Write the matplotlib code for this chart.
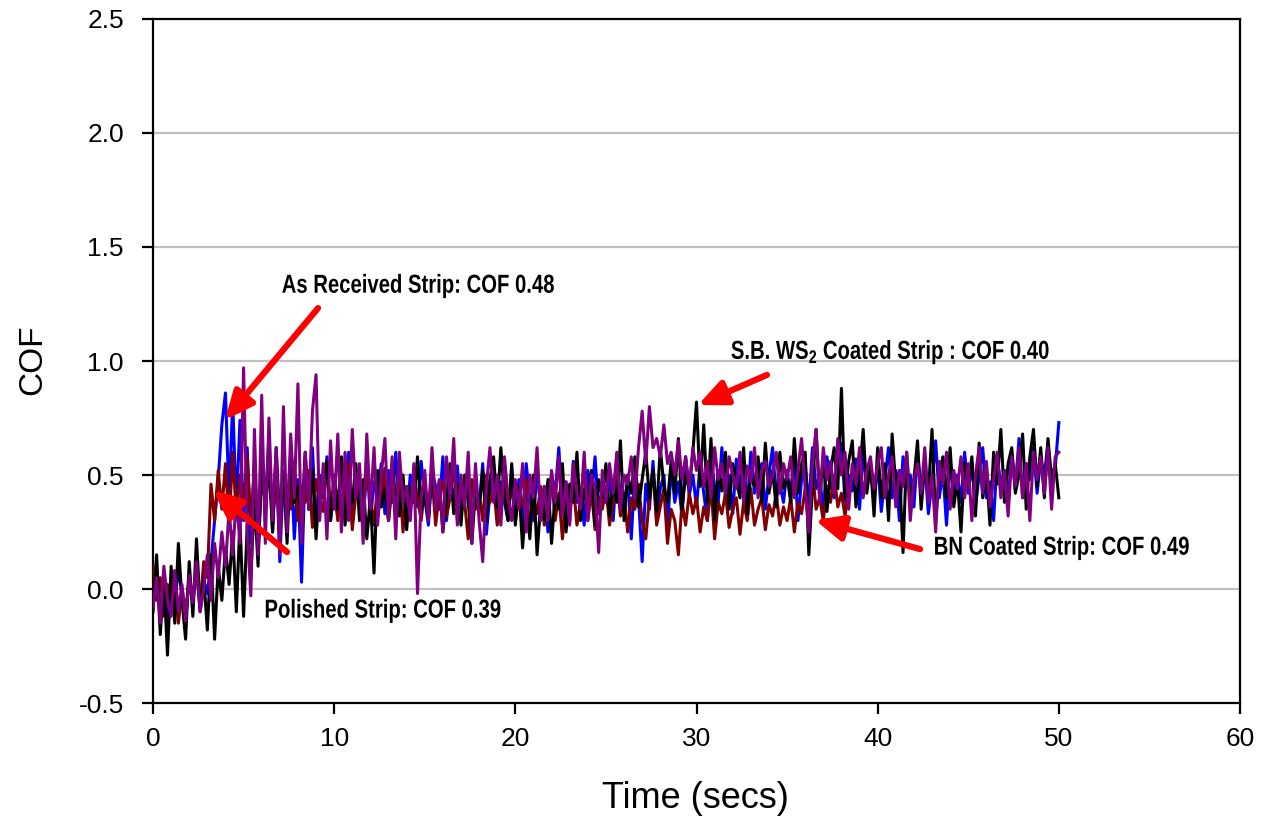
import numpy as np
import matplotlib
matplotlib.use("Agg")
import matplotlib.pyplot as plt
from matplotlib.textpath import TextPath
from matplotlib.patches import PathPatch
from matplotlib.font_manager import FontProperties
from matplotlib.transforms import Affine2D

plt.rcParams['font.family'] = ['Liberation Sans', 'DejaVu Sans']
plt.rcParams['mathtext.fontset'] = 'custom'
plt.rcParams['mathtext.rm'] = 'Liberation Sans:bold'
plt.rcParams['mathtext.default'] = 'rm'

DT = 0.2  # sampling step (s)

as_received = [
    -0.05, 0.08, -0.10, 0.02, -0.12, 0.05, -0.08, 0.10, -0.03, -0.14, 0.06, -0.06, 0.09, -0.10, 0.04, -0.02, 0.12, 0.30, 0.48, 0.72, 0.86, 0.40, 0.82, 0.35, 0.74,
    0.30, 0.62, 0.20, 0.55, 0.15, 0.50, 0.38, 0.66, 0.25, 0.58, 0.12, 0.52, 0.30, 0.60, 0.22, 0.48, 0.03, 0.55, 0.35, 0.62, 0.28, 0.50, 0.40, 0.58, 0.30,
    0.45, 0.32, 0.55, 0.38, 0.60, 0.28, 0.50, 0.42, 0.35, 0.58, 0.30, 0.47, 0.40, 0.55, 0.33, 0.52, 0.38, 0.60, 0.35, 0.45, 0.30, 0.50, 0.42, 0.36, 0.56,
    0.40, 0.28, 0.52, 0.45, 0.35, 0.58, 0.30, 0.48, 0.38, 0.54, 0.32, 0.44, 0.50, 0.28, 0.46, 0.36, 0.55, 0.24, 0.42, 0.50, 0.33, 0.47, 0.38, 0.30, 0.52,
    0.35, 0.48, 0.28, 0.55, 0.40, 0.30, 0.52, 0.36, 0.45, 0.25, 0.50, 0.42, 0.62, 0.34, 0.47, 0.30, 0.56, 0.38, 0.44, 0.28, 0.52, 0.40, 0.58, 0.33, 0.46,
    0.38, 0.50, 0.30, 0.55, 0.42, 0.36, 0.48, 0.22, 0.52, 0.40, 0.12, 0.46, 0.35, 0.56, 0.30, 0.44, 0.50, 0.26, 0.54, 0.38, 0.47, 0.32, 0.58, 0.41, 0.50,
    0.36, 0.55, 0.42, 0.30, 0.58, 0.45, 0.38, 0.62, 0.40, 0.50, 0.33, 0.57, 0.44, 0.52, 0.36, 0.60, 0.42, 0.48, 0.55, 0.35, 0.50, 0.62, 0.40, 0.46, 0.38,
    0.52, 0.40, 0.58, 0.30, 0.48, 0.55, 0.36, 0.62, 0.44, 0.50, 0.33, 0.58, 0.46, 0.40, 0.55, 0.64, 0.38, 0.50, 0.43, 0.57, 0.35, 0.60, 0.45, 0.52, 0.40,
    0.55, 0.34, 0.48, 0.62, 0.40, 0.52, 0.30, 0.58, 0.45, 0.50, 0.36, 0.60, 0.42, 0.55, 0.33, 0.47, 0.65, 0.40, 0.52, 0.28, 0.56, 0.44, 0.50, 0.38, 0.60,
    0.42, 0.55, 0.36, 0.50, 0.62, 0.40, 0.47, 0.30, 0.58, 0.45, 0.52, 0.38, 0.60, 0.44, 0.66, 0.40, 0.55, 0.48, 0.62, 0.42, 0.57, 0.50, 0.64, 0.45, 0.53, 0.73,
]

polished = [
    0.10, -0.05, 0.05, -0.12, 0.02, -0.08, 0.08, -0.15, 0.00, -0.10, 0.05, -0.05, 0.10, -0.08, 0.12, 0.05, 0.46, 0.30, 0.52, 0.35, 0.55, 0.28, 0.60, 0.32, 0.50,
    0.38, 0.58, 0.30, 0.52, 0.25, 0.48, 0.40, 0.55, 0.32, 0.46, 0.28, 0.50, 0.42, 0.35, 0.56, 0.30, 0.45, 0.38, 0.52, 0.27, 0.48, 0.40, 0.34, 0.55, 0.36,
    0.45, 0.30, 0.52, 0.38, 0.55, 0.26, 0.42, 0.48, 0.33, 0.50, 0.40, 0.28, 0.46, 0.36, 0.53, 0.30, 0.44, 0.38, 0.50, 0.25, 0.45, 0.34, 0.48, 0.40, 0.30,
    0.44, 0.36, 0.50, 0.28, 0.42, 0.47, 0.32, 0.40, 0.55, 0.30, 0.45, 0.38, 0.22, 0.48, 0.35, 0.42, 0.30, 0.50, 0.38, 0.45, 0.28, 0.40, 0.52, 0.34, 0.46,
    0.30, 0.42, 0.36, 0.48, 0.25, 0.40, 0.33, 0.45, 0.28, 0.38, 0.50, 0.30, 0.42, 0.22, 0.40, 0.35, 0.46, 0.28, 0.38, 0.55, 0.30, 0.43, 0.26, 0.40, 0.35,
    0.45, 0.28, 0.38, 0.50, 0.32, 0.42, 0.25, 0.40, 0.35, 0.46, 0.30, 0.22, 0.40, 0.52, 0.28, 0.36, 0.44, 0.20, 0.35, 0.30, 0.15, 0.38, 0.28, 0.42, 0.33,
    0.40, 0.25, 0.36, 0.30, 0.45, 0.22, 0.38, 0.33, 0.42, 0.27, 0.35, 0.40, 0.24, 0.38, 0.30, 0.44, 0.28, 0.35, 0.40, 0.26, 0.37, 0.32, 0.42, 0.28, 0.36,
    0.30, 0.40, 0.25, 0.38, 0.33, 0.44, 0.28, 0.52, 0.35, 0.40, 0.30, 0.45, 0.38, 0.50, 0.36, 0.42, 0.32, 0.45,
]

sb_ws2 = [
    -0.10, 0.15, -0.20, 0.05, -0.29, 0.10, -0.15, 0.20, -0.05, -0.22, 0.12, -0.12, 0.22, -0.08, 0.05, -0.18, 0.15, -0.22, 0.10, -0.05, 0.18, 0.02, 0.25, -0.10, 0.30,
    -0.12, 0.28, 0.05, 0.40, 0.10, 0.60, 0.35, 0.55, 0.25, 0.62, 0.30, 0.50, 0.20, 0.58, 0.38, 0.45, 0.28, 0.60, 0.35, 0.52, 0.22, 0.48, 0.40, 0.56, 0.30,
    0.50, 0.35, 0.58, 0.28, 0.45, 0.38, 0.55, 0.30, 0.48, 0.22, 0.40, 0.07, 0.52, 0.36, 0.44, 0.30, 0.55, 0.40, 0.32, 0.50, 0.26, 0.45, 0.38, 0.58, 0.34,
    0.42, 0.30, 0.52, 0.36, 0.47, 0.25, 0.40, 0.55, 0.33, 0.46, 0.28, 0.50, 0.38, 0.20, 0.44, 0.35, 0.52, 0.30, 0.48, 0.58, 0.36, 0.62, 0.40, 0.30, 0.55,
    0.28, 0.45, 0.18, 0.40, 0.22, 0.50, 0.15, 0.38, 0.30, 0.48, 0.20, 0.42, 0.35, 0.55, 0.25, 0.46, 0.38, 0.60, 0.30, 0.44, 0.36, 0.52, 0.28, 0.48, 0.40,
    0.55, 0.32, 0.46, 0.38, 0.65, 0.30, 0.50, 0.42, 0.58, 0.36, 0.48, 0.60, 0.40, 0.52, 0.34, 0.62, 0.45, 0.38, 0.56, 0.42, 0.66, 0.35, 0.50, 0.44, 0.60,
    0.82, 0.45, 0.72, 0.38, 0.66, 0.30, 0.52, 0.43, 0.60, 0.35, 0.55, 0.48, 0.40, 0.62, 0.33, 0.50, 0.45, 0.58, 0.38, 0.64, 0.42, 0.52, 0.36, 0.60, 0.44,
    0.50, 0.38, 0.66, 0.42, 0.55, 0.60, 0.15, 0.45, 0.70, 0.40, 0.58, 0.34, 0.52, 0.62, 0.44, 0.88, 0.40, 0.56, 0.65, 0.36, 0.50, 0.70, 0.42, 0.55, 0.32,
    0.62, 0.40, 0.55, 0.30, 0.68, 0.45, 0.52, 0.16, 0.60, 0.38, 0.48, 0.65, 0.35, 0.55, 0.42, 0.70, 0.30, 0.50, 0.58, 0.40, 0.62, 0.36, 0.48, 0.25, 0.55,
    0.45, 0.58, 0.32, 0.64, 0.40, 0.52, 0.28, 0.60, 0.46, 0.70, 0.38, 0.55, 0.62, 0.42, 0.50, 0.68, 0.35, 0.58, 0.70, 0.45, 0.62, 0.40, 0.66, 0.48, 0.55, 0.40,
]

bn_coated = [
    -0.08, 0.05, -0.15, 0.10, -0.05, -0.12, 0.08, -0.10, 0.02, -0.14, 0.06, -0.06, 0.12, -0.10, 0.00, 0.15, -0.05, 0.20, 0.05, 0.25, 0.10, 0.35, 0.15, 0.40, 0.20,
    0.97, 0.25, -0.03, 0.70, 0.15, 0.85, 0.20, 0.75, 0.30, 0.62, 0.15, 0.80, 0.25, 0.68, 0.40, 0.90, 0.20, 0.60, 0.35, 0.78, 0.94, 0.30, 0.55, 0.22, 0.65,
    0.35, 0.68, 0.25, 0.60, 0.30, 0.70, 0.40, 0.55, 0.20, 0.68, 0.35, 0.62, 0.28, 0.50, 0.66, 0.30, 0.58, 0.22, 0.60, 0.38, 0.45, 0.30, 0.55, -0.02, 0.40,
    0.52, 0.30, 0.62, 0.35, 0.48, 0.25, 0.58, 0.40, 0.66, 0.28, 0.50, 0.36, 0.60, 0.20, 0.55, 0.30, 0.12, 0.45, 0.62, 0.38, 0.50, 0.28, 0.58, 0.40, 0.30,
    0.48, 0.35, 0.55, 0.25, 0.50, 0.40, 0.62, 0.30, 0.45, 0.30, 0.52, 0.38, 0.58, 0.32, 0.47, 0.28, 0.55, 0.42, 0.35, 0.60, 0.30, 0.50, 0.44, 0.16, 0.52,
    0.38, 0.55, 0.42, 0.60, 0.35, 0.50, 0.46, 0.58, 0.40, 0.62, 0.78, 0.55, 0.80, 0.62, 0.66, 0.58, 0.72, 0.55, 0.60, 0.50, 0.65, 0.48, 0.58, 0.44, 0.62,
    0.52, 0.60, 0.45, 0.56, 0.40, 0.62, 0.48, 0.55, 0.42, 0.58, 0.50, 0.44, 0.60, 0.38, 0.54, 0.47, 0.62, 0.40, 0.52, 0.56, 0.45, 0.50, 0.60, 0.42, 0.55,
    0.48, 0.58, 0.40, 0.52, 0.66, 0.44, 0.25, 0.55, 0.70, 0.38, 0.62, 0.48, 0.56, 0.42, 0.66, 0.50, 0.60, 0.35, 0.55, 0.46, 0.62, 0.40, 0.52, 0.58, 0.44,
    0.55, 0.62, 0.40, 0.50, 0.58, 0.36, 0.52, 0.45, 0.60, 0.30, 0.48, 0.55, 0.42, 0.62, 0.38, 0.50, 0.25, 0.56, 0.46, 0.60, 0.35, 0.52, 0.44, 0.58, 0.40,
    0.55, 0.30, 0.50, 0.62, 0.42, 0.56, 0.36, 0.48, 0.60, 0.40, 0.52, 0.32, 0.58, 0.45, 0.62, 0.40, 0.55, 0.30, 0.60, 0.48, 0.58, 0.42, 0.62, 0.35, 0.58, 0.60,
]

series = [
    (as_received, '#0000FF'),
    (polished, '#800000'),
    (sb_ws2, '#000000'),
    (bn_coated, '#800080'),
]

x_ticks = [0, 10, 20, 30, 40, 50, 60]
y_ticks = [-0.5, 0.0, 0.5, 1.0, 1.5, 2.0, 2.5]

annotations = [
    ('As Received Strip: COF 0.48', (14.63, 1.329), (3.97, 0.741), (9.11, 1.232)),
    ('Polished Strip: COF 0.39', (12.70, -0.096), (3.31, 0.434), (7.40, 0.162)),
    ('S.B. WS$_2$ Coated Strip : COF 0.40', (40.68, 1.039), (30.08, 0.807), (33.89, 0.939)),
    ('BN Coated Strip: COF 0.49', (50.17, 0.180), (36.54, 0.303), (42.34, 0.175)),
]

W, H = 1272, 822
fig = plt.figure(figsize=(W / 100, H / 100), dpi=100)
ax = fig.add_axes([153 / W, 1 - 703 / H, (1240 - 153) / W, (703 - 19) / H])

for vals, col in series:
    t = np.arange(len(vals)) * DT
    ax.plot(t, vals, color=col, lw=2.2, zorder=3)

ax.set_xlim(0, 60)
ax.set_ylim(-0.5, 2.5)
ax.set_xticks(x_ticks)
ax.set_yticks(y_ticks)
ax.set_yticklabels([f'{v:.1f}' for v in y_ticks])
ax.set_xticklabels([str(v) for v in x_ticks])
for yv in y_ticks[1:-1]:
    ax.axhline(yv, color='#C0C0C0', lw=1.6, zorder=1)

for s in ax.spines.values():
    s.set_linewidth(1.6)
    s.set_color('black')
ax.tick_params(axis='both', direction='out', length=8, width=1.6,
               labelsize=19, colors='black')
ax.tick_params(axis='y', pad=13)
ax.tick_params(axis='x', pad=9)

fig.text(33 / W, 1 - 360 / H, 'COF', rotation=90, ha='center', va='center', fontsize=24)
fig.text(695 / W, 1 - 798 / H, 'Time (secs)', ha='center', va='center', fontsize=26)

# condensed bold annotation text (Arial-Narrow-like look)
fp = FontProperties(family='Liberation Sans', weight='bold')
EM_PX = 26.0
SX = 0.78
for text, tpos, head, tail in annotations:
    tp = TextPath((0, 0), text, size=EM_PX, prop=fp)
    ext = tp.get_extents()
    cx = (ext.x0 + ext.x1) / 2
    cy = (ext.y0 + ext.y1) / 2
    px, py = ax.transData.transform(tpos)
    tr = Affine2D().translate(-cx, -cy).scale(SX, 1.0).translate(px, py)
    fig.add_artist(PathPatch(tp, transform=tr, facecolor='black',
                             edgecolor='none', zorder=6))
    ax.annotate('', xy=head, xytext=tail,
                arrowprops=dict(arrowstyle='-|>,head_length=0.85,head_width=0.38',
                                mutation_scale=20, lw=4.5, color='#FF0000',
                                shrinkA=0, shrinkB=0),
                zorder=7)

fig.savefig('out.png', dpi=100)
